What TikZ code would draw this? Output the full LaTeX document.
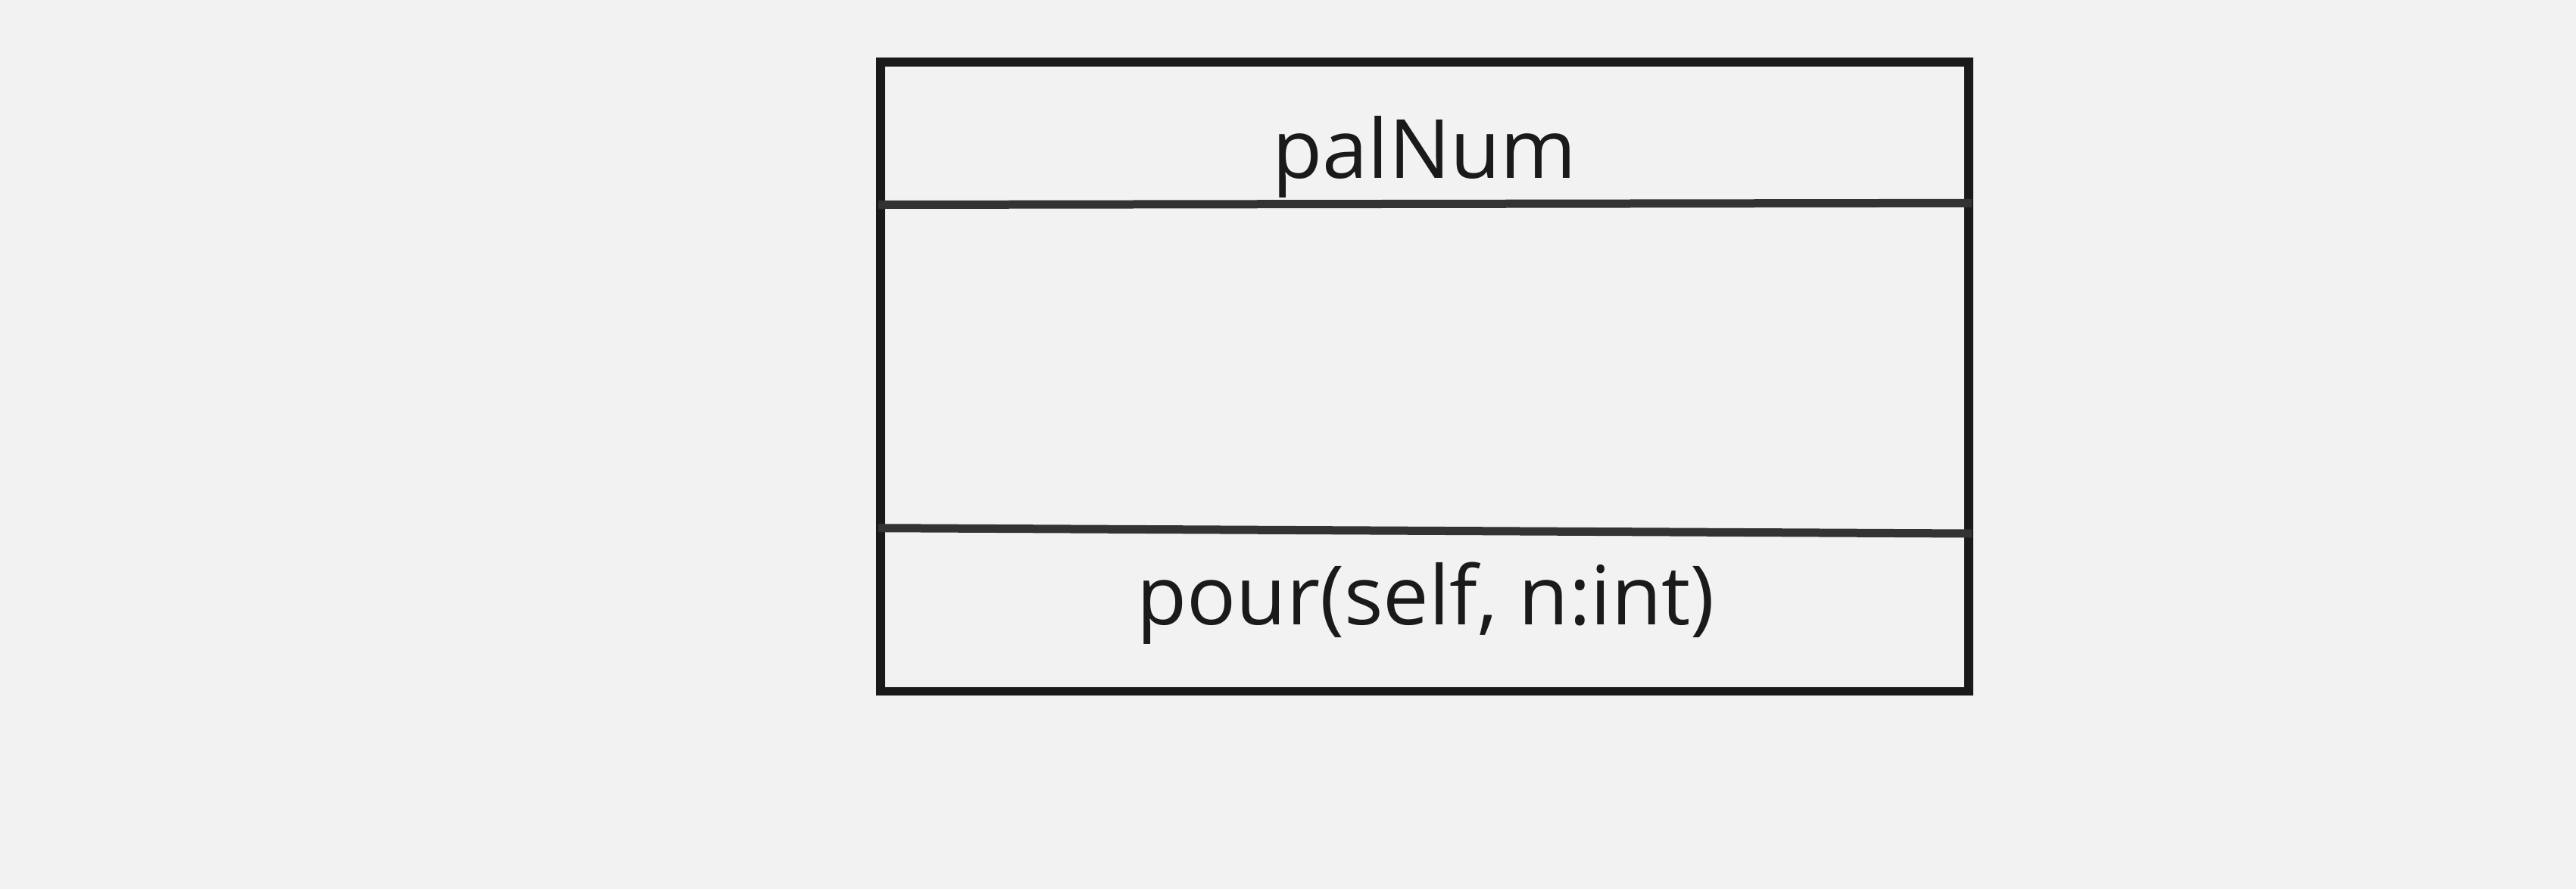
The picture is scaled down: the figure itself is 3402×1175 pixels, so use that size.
\documentclass[tikz,border=0pt]{standalone}
\usepackage{fontspec}
\setmainfont{Open Sans}
\usepackage{tikz}
\definecolor{bgcol}{HTML}{F2F2F2}
\definecolor{framecol}{HTML}{1A1A1A}
\definecolor{divcol}{HTML}{333333}

\begin{document}
\begin{tikzpicture}[x=0.5pt, y=-0.5pt,
    frame/.style={draw=framecol, line width=5.75pt},
    divider/.style={draw=divcol, line width=5.5pt},
    label/.style={text=framecol, font=\fontsize{54}{65}\selectfont, inner sep=0pt, anchor=base}]
    \fill[bgcol] (0,0) rectangle (3402,1175);
    \useasboundingbox (0,0) rectangle (3402,1175);

    \coordinate (NW) at (1163,82);
    \coordinate (SE) at (2600,913.5);
    \coordinate (D1L) at (1160,270.5);
    \coordinate (D1R) at (2604,268.3);
    \coordinate (D2L) at (1160,697.7);
    \coordinate (D2R) at (2604,705);

    \draw[frame] (NW) rectangle (SE);
    \draw[divider] (D1L) -- (D1R);
    \draw[divider] (D2L) -- (D2R);

    \node[label] (CLASS)  at (1881.5,235) {palNum};
    \node[label] (METHOD) at (1883,825)   {pour(self, n:int)};
\end{tikzpicture}
\end{document}
